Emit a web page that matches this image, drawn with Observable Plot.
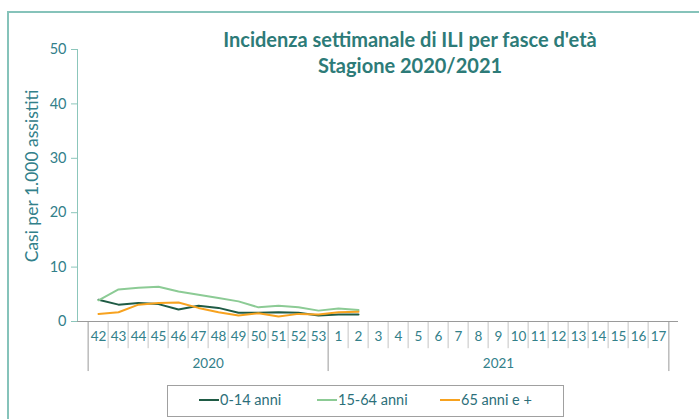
<!DOCTYPE html>
<html>
<head>
<meta charset="utf-8">
<script src="https://cdn.jsdelivr.net/npm/d3@7"></script>
<script src="https://cdn.jsdelivr.net/npm/@observablehq/plot@0.6"></script>
<style>
  html, body { margin: 0; padding: 0; background: #fff; }
  #wrap { position: relative; width: 699px; height: 419px; overflow: hidden; font-family: Lato, "Open Sans", sans-serif; }
  #border { position: absolute; left: 7px; top: 11px; width: 720px; height: 440px; border-left: 2px solid #86c3ba; border-top: 2px solid #86c3ba; }
  #title { position: absolute; left: 110px; width: 600px; top: 26px; text-align: center; font-weight: bold; font-size: 20px; line-height: 26px; color: #2d7b78; }
  #ylabel { position: absolute; left: 31px; top: 176px; transform: translate(-50%, -50%) rotate(-90deg); white-space: nowrap; font-size: 17.5px; color: #32808a; }
  #legend { position: absolute; left: 167px; top: 385px; width: 397px; height: 32px; border: 1.5px solid #a0a0a0; box-sizing: border-box; font-size: 14.5px; color: #2c6f7a; }
  .item { position: absolute; top: 5px; white-space: nowrap; }
  .sw { display: inline-block; width: 20px; height: 2px; vertical-align: middle; margin-right: 1px; position: relative; top: -1px; }
  svg { position: absolute; left: 0; top: 0; }
</style>
</head>
<body>
<div id="wrap">
  <div id="border"></div>
  <div id="title"></div>
  <div id="ylabel"></div>
  <div id="legend"></div>
</div>
<script>
const titleLines = ["Incidenza settimanale di ILI per fasce d'età", "Stagione 2020/2021"];
const yLabel = "Casi per 1.000 assistiti";
const weeks = ["42","43","44","45","46","47","48","49","50","51","52","53","1","2","3","4","5","6","7","8","9","10","11","12","13","14","15","16","17"];
const years = ["2020", "2021"];
const yTicks = [0, 10, 20, 30, 40, 50];
const seriesNames = ["0-14 anni", "15-64 anni", "65 anni e +"];
const seriesColors = ["#1f5b45", "#8ccb95", "#f7a21f"];
const age0_14 = [4.0, 3.1, 3.4, 3.2, 2.2, 2.9, 2.5, 1.6, 1.6, 1.7, 1.6, 1.1, 1.3, 1.3];
const age15_64 = [3.9, 5.9, 6.2, 6.4, 5.5, 4.9, 4.3, 3.7, 2.6, 2.9, 2.6, 2.0, 2.4, 2.1];
const age65 = [1.4, 1.7, 3.1, 3.4, 3.5, 2.5, 1.7, 1.1, 1.5, 0.9, 1.4, 1.3, 1.7, 1.8];

const seriesValues = [age0_14, age15_64, age65];
const data = [];
seriesValues.forEach((vals, s) => vals.forEach((v, i) => data.push({series: seriesNames[s], week: weeks[i], value: v})));

// year groups: first and last week of each year
const yearFirst = ["42", "1"];
const yearLast = ["53", "17"];

const W = 699, H = 419, mL = 77, mR = 21, mT = 49, mB = 98;
const bw = (W - mL - mR) / weeks.length;

const innerDividers = weeks.filter(w => !yearFirst.includes(w));
const yearMid = years.map((y, k) => ({year: y, a: weeks.indexOf(yearFirst[k]), b: weeks.indexOf(yearLast[k])}));

const teal = "#32808a";
const axisTeal = "#8cc6bb";

const marks = [
  Plot.axisY({ticks: yTicks, tickSize: 6, tickPadding: 5, stroke: axisTeal, color: teal, fontSize: 14.5, label: null, tickFormat: d => d}),
  Plot.frame({anchor: "left", stroke: axisTeal}),
  Plot.ruleX(innerDividers, {x: d => d, dx: -bw / 2, y1: 0, y2: -5, stroke: "#c4c4c4"}),
  Plot.ruleX(yearFirst, {x: d => d, dx: -bw / 2, y1: 0, y2: -9.2, stroke: "#9a9a9a"}),
  Plot.ruleX([weeks[weeks.length - 1]], {x: d => d, dx: bw / 2, y1: 0, y2: -9.2, stroke: "#9a9a9a"}),
  Plot.ruleY([0], {stroke: "#9a9a9a"}),
  Plot.axisX({tickSize: 0, tickPadding: 10, color: teal, fontSize: 13.5, label: null}),
  Plot.line(data, {x: "week", y: "value", z: "series", stroke: "series", strokeWidth: 2})
];
yearMid.forEach(({year, a, b}) => {
  const odd = (b - a + 1) % 2 === 1;
  const mid = weeks[Math.floor((a + b + 1) / 2)];
  marks.push(Plot.text([year], {x: () => mid, dx: odd ? 0 : -bw / 2, frameAnchor: "bottom", dy: 46, fill: teal, fontSize: 13.5, text: d => d}));
});

const chart = Plot.plot({
  width: W, height: H,
  marginLeft: mL, marginRight: mR, marginTop: mT, marginBottom: mB,
  style: {fontFamily: "Lato, 'Open Sans', sans-serif", background: "transparent", overflow: "visible"},
  x: {type: "band", domain: weeks, padding: 0, axis: null},
  y: {domain: [0, 50], axis: null},
  color: {domain: seriesNames, range: seriesColors},
  marks
});
document.getElementById("wrap").appendChild(chart);

document.getElementById("title").innerHTML = titleLines.join("<br>");
document.getElementById("ylabel").textContent = yLabel;
const legendX = [31, 149, 272];
const lg = document.getElementById("legend");
seriesNames.forEach((n, i) => {
  const it = document.createElement("div");
  it.className = "item";
  it.style.left = legendX[i] + "px";
  it.innerHTML = `<span class="sw" style="background:${seriesColors[i]}"></span>${n}`;
  lg.appendChild(it);
});
</script>
</body>
</html>
